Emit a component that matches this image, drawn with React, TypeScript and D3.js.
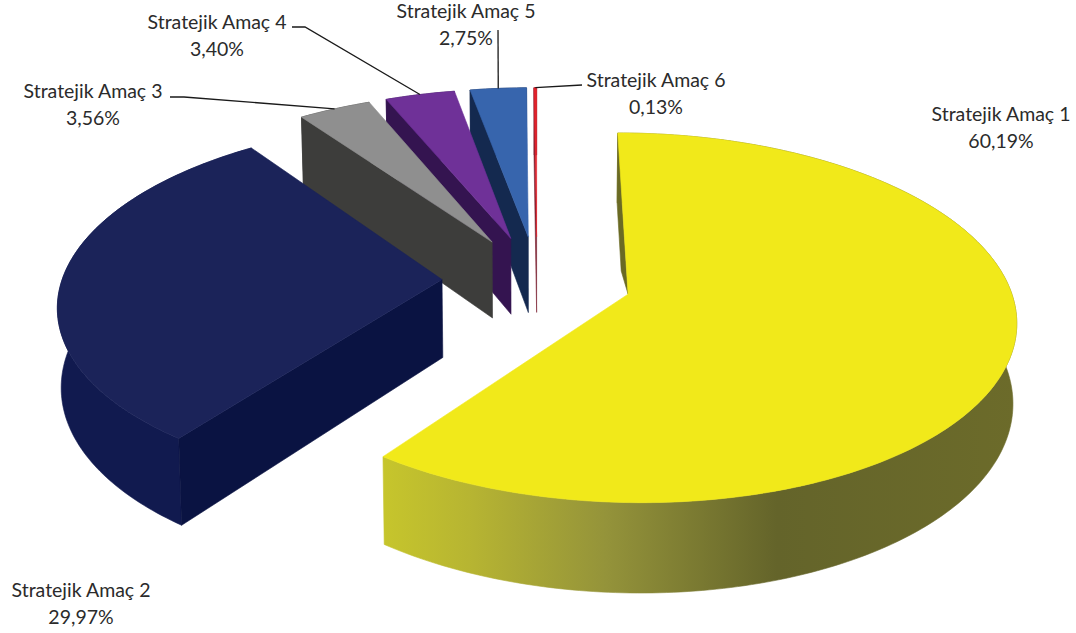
import React from "react";
import * as d3 from "d3";

const categories = ["Stratejik Amaç 1", "Stratejik Amaç 2", "Stratejik Amaç 3", "Stratejik Amaç 4", "Stratejik Amaç 5", "Stratejik Amaç 6"];
const shares = [60.19, 29.97, 3.56, 3.4, 2.75, 0.13];
const percentLabels = ["60,19%", "29,97%", "3,56%", "3,40%", "2,75%", "0,13%"];

const topColors = ["#f1e91a", "#1b2359", "#8f8f8f", "#6f3198", "#3765ad", "#e3222b"];
const cutColors = ["#6a6a24", "#0a1342", "#3d3d3b", "#341450", "#14294f", "#7a2030"];
const arcColors = ["url(#rimGrad)", "#111a4f", "#3d3d3b", "#341450", "#14294f", "#7a2030"];

const labelCenters = [1001, 81, 93, 217, 466, 656];
const labelTops = [121, 597, 98, 29, 18, 87];
const lineGap = 27;
const leaderStarts: ([number, number][] | null)[] = [
  null,
  null,
  [[170, 97], [184, 97]],
  [[292, 27], [305, 27]],
  [[498, 30]],
  [[582, 85]],
];

const W = 1076, H = 633;
const cx = 537, y0 = 280, k = 0.469, D = 3000;
const R = 380, E = 95, depth = 78, converge = 0.992;
const yellowCutKeep = 0.57;

function project(X: number, Y: number, z = 0): [number, number] {
  const w = 1 + Y / D;
  const sx = X / w;
  return [cx + (z > 0 ? sx * converge : sx), y0 - (k * Y) / w + z / w];
}

const pieGen = d3.pie<number>().sort(null).startAngle(0).endAngle(2 * Math.PI);
const line = d3.line();

export default function App() {
  const arcs = pieGen(shares);
  const slices = arcs.map((a, i) => {
    const mid = (a.startAngle + a.endAngle) / 2;
    const ox = E * Math.sin(mid), oy = E * Math.cos(mid);
    const pt = (t: number, r: number, z = 0) => project(ox + r * Math.sin(t), oy + r * Math.cos(t), z);
    const n = Math.max(4, Math.ceil((a.endAngle - a.startAngle) * 60));
    const angles = d3.range(n + 1).map((j) => a.startAngle + ((a.endAngle - a.startAngle) * j) / n);
    const top: [number, number][] = angles.map((t) => pt(t, R));
    const base: [number, number][] = angles.map((t) => pt(t, R, depth));
    const apex = pt(a.startAngle, 0);
    const keep = i === 0 ? yellowCutKeep : 0;
    const cutBaseInner = pt(a.startAngle, R * keep, depth);
    const cut: [number, number][] = [top[0], base[0], cutBaseInner, apex];
    const rim: [number, number][] = [...top, ...base.slice().reverse()];
    const face: [number, number][] = [apex, ...top];
    const midPt = pt(mid, R);
    return { i, cut, rim, face, midPt };
  });

  const order = [5, 4, 3, 2, 1, 0];

  return (
    <svg width={W} height={H} viewBox={`0 0 ${W} ${H}`} style={{ position: "absolute", left: 0, top: 0, background: "#fff" }}>
      <defs>
        <linearGradient id="rimGrad" gradientUnits="userSpaceOnUse" x1={385} x2={1017} y1={0} y2={0}>
          <stop offset="0" stopColor="#c6c52c" />
          <stop offset="0.14" stopColor="#b6b432" />
          <stop offset="0.35" stopColor="#94933a" />
          <stop offset="0.62" stopColor="#64642a" />
          <stop offset="1" stopColor="#6c6b2a" />
        </linearGradient>
      </defs>
      {order.map((i) => {
        const s = slices[i];
        return (
          <g key={categories[i]} strokeWidth={0.6} strokeLinejoin="round">
            <path d={line(s.rim) + "Z"} fill={arcColors[i]} stroke={arcColors[i]} />
            <path d={line(s.cut) + "Z"} fill={cutColors[i]} stroke={cutColors[i]} />
            <path d={line(s.face) + "Z"} fill={topColors[i]} stroke={topColors[i]} />
          </g>
        );
      })}
      {leaderStarts.map((ls, i) =>
        ls ? (
          <path key={i} d={line([...ls, slices[i].midPt]) as string} fill="none" stroke="#1a1a1a" strokeWidth={1.3} />
        ) : null
      )}
      {categories.map((c, i) => (
        <text key={c} x={labelCenters[i]} y={labelTops[i]} textAnchor="middle" fontFamily="Lato, 'Open Sans', sans-serif" fontSize={19.5} fill="#2b2b2b">
          <tspan x={labelCenters[i]}>{c}</tspan>
          <tspan x={labelCenters[i]} dy={lineGap}>{percentLabels[i]}</tspan>
        </text>
      ))}
    </svg>
  );
}
